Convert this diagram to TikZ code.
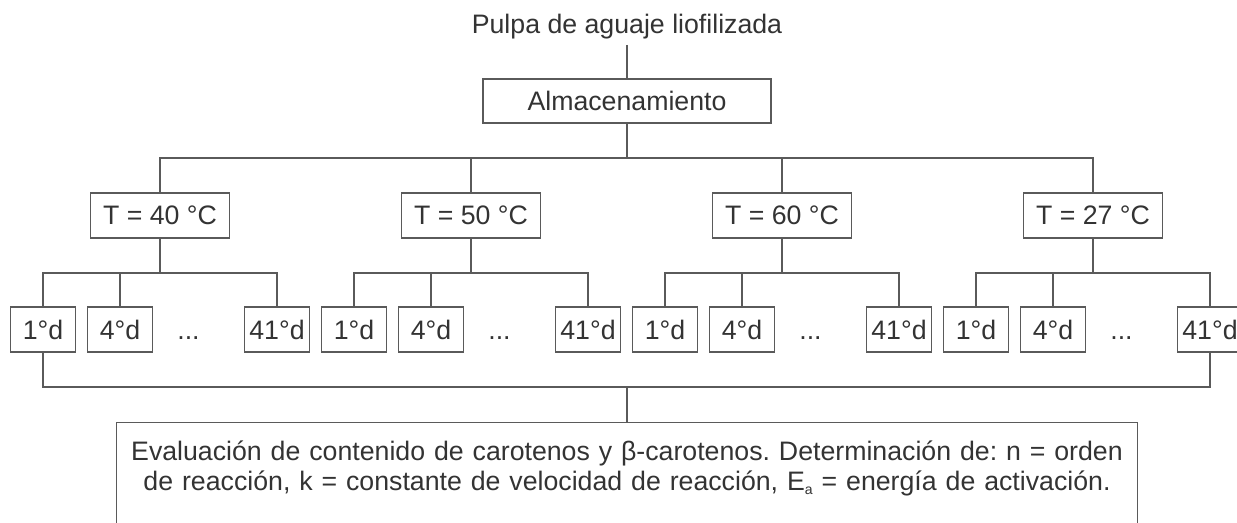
\documentclass[tikz,border=0pt]{standalone}
\usepackage{fontspec}
\setmainfont{Liberation Sans}
\usepackage{tikz}
\definecolor{inkgray}{HTML}{333333}
\definecolor{linegray}{HTML}{5A5A5A}
\frenchspacing

\begin{document}
\begin{tikzpicture}[font=\fontsize{15.2}{17}\selectfont, text=inkgray,
        box/.style={draw=linegray, line width=0.8pt, inner sep=0pt, minimum height=0.9cm},
        temp/.style={box, minimum width=2.78cm},
        day/.style={box, minimum width=1.3cm},
        link/.style={draw=linegray, line width=0.8pt}]
        \useasboundingbox (0, 0) rectangle (24.74, 10.44);
        \clip (0, 0) rectangle (24.74, 10.44);
        \node (TOP) [anchor=base, inner sep=1mm] at (12.54, 9.76) {Pulpa de aguaje liofilizada};
        \node (ALM) [box, minimum width=5.76cm, minimum height=0.88cm] at (12.54, 8.42) {Almacenamiento};
        \node (T1) [temp] at (3.20, 6.13) {T = 40 °C};
        \node (T2) [temp] at (9.42, 6.13) {T = 50 °C};
        \node (T3) [temp] at (15.64, 6.13) {T = 60 °C};
        \node (T4) [temp] at (21.86, 6.13) {T = 27 °C};
        \node (L1) [day] at (0.86, 3.85) {1°d};
        \node (M1) [day] at (2.40, 3.85) {4°d};
        \node (E1) [anchor=base] at (3.77, 3.66) {...};
        \node (R1) [day] at (5.54, 3.85) {41°d};
        \node (L2) [day] at (7.08, 3.85) {1°d};
        \node (M2) [day] at (8.62, 3.85) {4°d};
        \node (E2) [anchor=base] at (9.99, 3.66) {...};
        \node (R2) [day] at (11.76, 3.85) {41°d};
        \node (L3) [day] at (13.30, 3.85) {1°d};
        \node (M3) [day] at (14.84, 3.85) {4°d};
        \node (E3) [anchor=base] at (16.21, 3.66) {...};
        \node (R3) [day] at (17.98, 3.85) {41°d};
        \node (L4) [day] at (19.52, 3.85) {1°d};
        \node (M4) [day] at (21.06, 3.85) {4°d};
        \node (E4) [anchor=base] at (22.43, 3.66) {...};
        \node (R4) [day] at (24.20, 3.85) {41°d};
        \node (EV) [draw=linegray, line width=0.8pt, anchor=north, align=center, text width=20.42cm,
                inner xsep=0pt, inner ysep=0.36cm, text depth=1.5cm] at (12.54, 2.0)
                {Evaluación de contenido de carotenos y β-carotenos. Determinación de: n = orden\\
                de reacción, k = constante de velocidad de reacción, E\raisebox{-0.3ex}{\fontsize{8}{8}\selectfont a} = energía de activación.};
        \coordinate (TB) at (12.54, 7.28);
        \coordinate (G1) at (3.20, 4.98);
        \coordinate (G2) at (9.42, 4.98);
        \coordinate (G3) at (15.64, 4.98);
        \coordinate (G4) at (21.86, 4.98);
        \coordinate (BB) at (12.54, 2.70);
        \draw [link] (TOP) -- (ALM);
        \draw [link] (ALM) -- (TB);
        \draw [link] (T1.north) |- (TB) -| (T4.north);
        \draw [link] (T2.north) |- (TB);
        \draw [link] (T3.north) |- (TB);
        \draw [link] (T1) -- (G1);
        \draw [link] (L1.north) |- (G1) -| (R1.north);
        \draw [link] (M1.north) |- (G1);
        \draw [link] (T2) -- (G2);
        \draw [link] (L2.north) |- (G2) -| (R2.north);
        \draw [link] (M2.north) |- (G2);
        \draw [link] (T3) -- (G3);
        \draw [link] (L3.north) |- (G3) -| (R3.north);
        \draw [link] (M3.north) |- (G3);
        \draw [link] (T4) -- (G4);
        \draw [link] (L4.north) |- (G4) -| (R4.north);
        \draw [link] (M4.north) |- (G4);
        \draw [link] (L1.south) |- (BB) -| (R4.south);
        \draw [link] (BB) -- (EV);
\end{tikzpicture}
\end{document}
